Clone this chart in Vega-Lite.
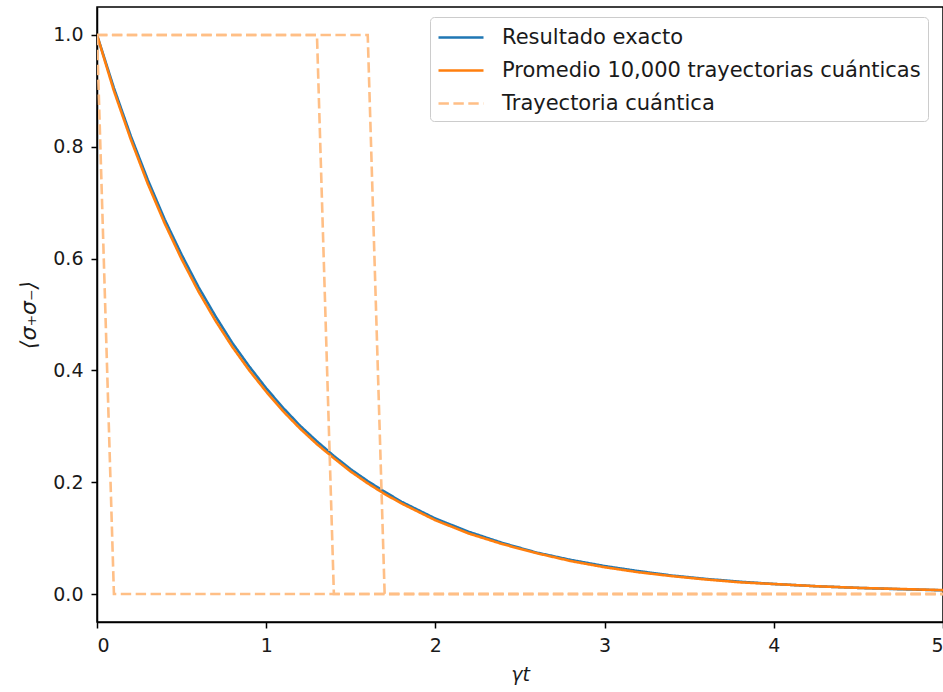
{
  "$schema": "https://vega.github.io/schema/vega-lite/v6.json",
  "width": 846,
  "height": 615,
  "autosize": {"type": "none"},
  "padding": {"left": 97, "top": 7, "right": 0, "bottom": 70},
  "background": "white",
  "config": {
    "font": "DejaVu Sans",
    "view": {"stroke": "black", "strokeWidth": 1.5},
    "axis": {
      "grid": false,
      "domainColor": "black",
      "domainWidth": 1.5,
      "tickColor": "black",
      "tickSize": 6,
      "tickWidth": 1.5,
      "labelFont": "DejaVu Sans",
      "labelFontSize": 19,
      "labelColor": "#1a1a1a",
      "titleFont": "DejaVu Sans",
      "titleFontSize": 19,
      "titleFontWeight": "normal",
      "titleColor": "#1a1a1a"
    },
    "legend": {
      "labelFont": "DejaVu Sans",
      "labelFontSize": 21,
      "labelColor": "#1a1a1a"
    }
  },
  "data": {
    "values": [
      {"t": 0.0, "v": 1.0, "serie": "Resultado exacto", "id": "e"},
      {"t": 0.1, "v": 0.905, "serie": "Resultado exacto", "id": "e"},
      {"t": 0.2, "v": 0.819, "serie": "Resultado exacto", "id": "e"},
      {"t": 0.3, "v": 0.741, "serie": "Resultado exacto", "id": "e"},
      {"t": 0.4, "v": 0.670, "serie": "Resultado exacto", "id": "e"},
      {"t": 0.5, "v": 0.607, "serie": "Resultado exacto", "id": "e"},
      {"t": 0.6, "v": 0.549, "serie": "Resultado exacto", "id": "e"},
      {"t": 0.7, "v": 0.497, "serie": "Resultado exacto", "id": "e"},
      {"t": 0.8, "v": 0.449, "serie": "Resultado exacto", "id": "e"},
      {"t": 0.9, "v": 0.407, "serie": "Resultado exacto", "id": "e"},
      {"t": 1.0, "v": 0.368, "serie": "Resultado exacto", "id": "e"},
      {"t": 1.1, "v": 0.333, "serie": "Resultado exacto", "id": "e"},
      {"t": 1.2, "v": 0.301, "serie": "Resultado exacto", "id": "e"},
      {"t": 1.3, "v": 0.273, "serie": "Resultado exacto", "id": "e"},
      {"t": 1.4, "v": 0.247, "serie": "Resultado exacto", "id": "e"},
      {"t": 1.5, "v": 0.223, "serie": "Resultado exacto", "id": "e"},
      {"t": 1.6, "v": 0.202, "serie": "Resultado exacto", "id": "e"},
      {"t": 1.7, "v": 0.183, "serie": "Resultado exacto", "id": "e"},
      {"t": 1.8, "v": 0.165, "serie": "Resultado exacto", "id": "e"},
      {"t": 1.9, "v": 0.150, "serie": "Resultado exacto", "id": "e"},
      {"t": 2.0, "v": 0.135, "serie": "Resultado exacto", "id": "e"},
      {"t": 2.2, "v": 0.111, "serie": "Resultado exacto", "id": "e"},
      {"t": 2.4, "v": 0.091, "serie": "Resultado exacto", "id": "e"},
      {"t": 2.6, "v": 0.074, "serie": "Resultado exacto", "id": "e"},
      {"t": 2.8, "v": 0.061, "serie": "Resultado exacto", "id": "e"},
      {"t": 3.0, "v": 0.050, "serie": "Resultado exacto", "id": "e"},
      {"t": 3.2, "v": 0.041, "serie": "Resultado exacto", "id": "e"},
      {"t": 3.4, "v": 0.033, "serie": "Resultado exacto", "id": "e"},
      {"t": 3.6, "v": 0.027, "serie": "Resultado exacto", "id": "e"},
      {"t": 3.8, "v": 0.022, "serie": "Resultado exacto", "id": "e"},
      {"t": 4.0, "v": 0.018, "serie": "Resultado exacto", "id": "e"},
      {"t": 4.25, "v": 0.014, "serie": "Resultado exacto", "id": "e"},
      {"t": 4.5, "v": 0.011, "serie": "Resultado exacto", "id": "e"},
      {"t": 4.75, "v": 0.0087, "serie": "Resultado exacto", "id": "e"},
      {"t": 5.0, "v": 0.0067, "serie": "Resultado exacto", "id": "e"},

      {"t": 0.0, "v": 1.0, "serie": "Promedio 10,000 trayectorias cuánticas", "id": "p"},
      {"t": 0.1, "v": 0.900, "serie": "Promedio 10,000 trayectorias cuánticas", "id": "p"},
      {"t": 0.2, "v": 0.813, "serie": "Promedio 10,000 trayectorias cuánticas", "id": "p"},
      {"t": 0.3, "v": 0.734, "serie": "Promedio 10,000 trayectorias cuánticas", "id": "p"},
      {"t": 0.4, "v": 0.663, "serie": "Promedio 10,000 trayectorias cuánticas", "id": "p"},
      {"t": 0.5, "v": 0.599, "serie": "Promedio 10,000 trayectorias cuánticas", "id": "p"},
      {"t": 0.6, "v": 0.541, "serie": "Promedio 10,000 trayectorias cuánticas", "id": "p"},
      {"t": 0.7, "v": 0.489, "serie": "Promedio 10,000 trayectorias cuánticas", "id": "p"},
      {"t": 0.8, "v": 0.442, "serie": "Promedio 10,000 trayectorias cuánticas", "id": "p"},
      {"t": 0.9, "v": 0.400, "serie": "Promedio 10,000 trayectorias cuánticas", "id": "p"},
      {"t": 1.0, "v": 0.362, "serie": "Promedio 10,000 trayectorias cuánticas", "id": "p"},
      {"t": 1.1, "v": 0.327, "serie": "Promedio 10,000 trayectorias cuánticas", "id": "p"},
      {"t": 1.2, "v": 0.296, "serie": "Promedio 10,000 trayectorias cuánticas", "id": "p"},
      {"t": 1.3, "v": 0.268, "serie": "Promedio 10,000 trayectorias cuánticas", "id": "p"},
      {"t": 1.4, "v": 0.243, "serie": "Promedio 10,000 trayectorias cuánticas", "id": "p"},
      {"t": 1.5, "v": 0.219, "serie": "Promedio 10,000 trayectorias cuánticas", "id": "p"},
      {"t": 1.6, "v": 0.198, "serie": "Promedio 10,000 trayectorias cuánticas", "id": "p"},
      {"t": 1.7, "v": 0.179, "serie": "Promedio 10,000 trayectorias cuánticas", "id": "p"},
      {"t": 1.8, "v": 0.162, "serie": "Promedio 10,000 trayectorias cuánticas", "id": "p"},
      {"t": 1.9, "v": 0.147, "serie": "Promedio 10,000 trayectorias cuánticas", "id": "p"},
      {"t": 2.0, "v": 0.132, "serie": "Promedio 10,000 trayectorias cuánticas", "id": "p"},
      {"t": 2.2, "v": 0.108, "serie": "Promedio 10,000 trayectorias cuánticas", "id": "p"},
      {"t": 2.4, "v": 0.089, "serie": "Promedio 10,000 trayectorias cuánticas", "id": "p"},
      {"t": 2.6, "v": 0.073, "serie": "Promedio 10,000 trayectorias cuánticas", "id": "p"},
      {"t": 2.8, "v": 0.059, "serie": "Promedio 10,000 trayectorias cuánticas", "id": "p"},
      {"t": 3.0, "v": 0.048, "serie": "Promedio 10,000 trayectorias cuánticas", "id": "p"},
      {"t": 3.2, "v": 0.039, "serie": "Promedio 10,000 trayectorias cuánticas", "id": "p"},
      {"t": 3.4, "v": 0.032, "serie": "Promedio 10,000 trayectorias cuánticas", "id": "p"},
      {"t": 3.6, "v": 0.026, "serie": "Promedio 10,000 trayectorias cuánticas", "id": "p"},
      {"t": 3.8, "v": 0.021, "serie": "Promedio 10,000 trayectorias cuánticas", "id": "p"},
      {"t": 4.0, "v": 0.018, "serie": "Promedio 10,000 trayectorias cuánticas", "id": "p"},
      {"t": 4.25, "v": 0.014, "serie": "Promedio 10,000 trayectorias cuánticas", "id": "p"},
      {"t": 4.5, "v": 0.011, "serie": "Promedio 10,000 trayectorias cuánticas", "id": "p"},
      {"t": 4.75, "v": 0.009, "serie": "Promedio 10,000 trayectorias cuánticas", "id": "p"},
      {"t": 5.0, "v": 0.007, "serie": "Promedio 10,000 trayectorias cuánticas", "id": "p"},

      {"t": 0.0, "v": 1.0, "serie": "Trayectoria cuántica", "id": "a"},
      {"t": 0.1, "v": 0.0, "serie": "Trayectoria cuántica", "id": "a"},
      {"t": 5.0, "v": 0.0, "serie": "Trayectoria cuántica", "id": "a"},

      {"t": 0.0, "v": 1.0, "serie": "Trayectoria cuántica", "id": "b"},
      {"t": 1.3, "v": 1.0, "serie": "Trayectoria cuántica", "id": "b"},
      {"t": 1.4, "v": 0.0, "serie": "Trayectoria cuántica", "id": "b"},
      {"t": 5.0, "v": 0.0, "serie": "Trayectoria cuántica", "id": "b"},

      {"t": 0.0, "v": 1.0, "serie": "Trayectoria cuántica", "id": "c"},
      {"t": 1.6, "v": 1.0, "serie": "Trayectoria cuántica", "id": "c"},
      {"t": 1.7, "v": 0.0, "serie": "Trayectoria cuántica", "id": "c"},
      {"t": 5.0, "v": 0.0, "serie": "Trayectoria cuántica", "id": "c"}
    ]
  },
  "mark": {"type": "line", "strokeWidth": 2.6, "clip": true},
  "encoding": {
    "x": {
      "field": "t",
      "type": "quantitative",
      "scale": {"domain": [0, 5], "nice": false, "zero": false},
      "axis": {"values": [0, 1, 2, 3, 4, 5], "format": "d", "title": "γt", "titleFontStyle": "italic", "labelPadding": 8, "titlePadding": 10}
    },
    "y": {
      "field": "v",
      "type": "quantitative",
      "scale": {"domain": [-0.05, 1.05], "nice": false, "zero": false},
      "axis": {"values": [0, 0.2, 0.4, 0.6, 0.8, 1.0], "format": ".1f", "title": "⟨σ₊σ₋⟩", "titleFontSize": 22, "titleFontStyle": "italic", "labelPadding": 8, "titlePadding": 12}
    },
    "detail": {"field": "id"},
    "color": {
      "field": "serie",
      "type": "nominal",
      "scale": {
        "domain": ["Resultado exacto", "Promedio 10,000 trayectorias cuánticas", "Trayectoria cuántica"],
        "range": ["#1f77b4", "#ff7f0e", "#ffbf86"]
      },
      "legend": {
        "title": null,
        "orient": "none",
        "legendX": 333,
        "legendY": 10,
        "symbolType": "M-1,0H2.75",
        "symbolSize": 576,
        "symbolStrokeWidth": 2.6,
        "labelOffset": 38,
        "labelLimit": 0,
        "rowPadding": 9,
        "padding": 7,
        "strokeColor": "#cccccc",
        "fillColor": "white",
        "cornerRadius": 4
      }
    },
    "strokeDash": {
      "field": "serie",
      "type": "nominal",
      "scale": {
        "domain": ["Resultado exacto", "Promedio 10,000 trayectorias cuánticas", "Trayectoria cuántica"],
        "range": [[1, 0], [1, 0], [10.4, 4.5]]
      },
      "legend": null
    }
  }
}
